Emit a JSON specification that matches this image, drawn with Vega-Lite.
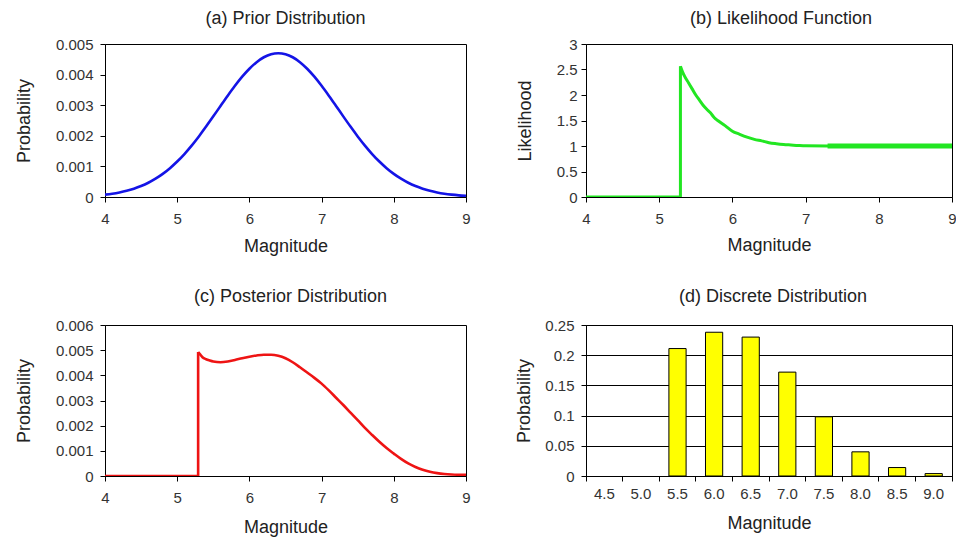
{
  "$schema": "https://vega.github.io/schema/vega-lite/v6.json",
  "padding": {"left": 14, "top": 9, "right": 5, "bottom": 0},
  "background": "white",
  "datasets": {
    "prior": [
      {"m": 4.0, "p": 0.0000768}, {"m": 4.1, "p": 0.000107}, {"m": 4.2, "p": 0.000148}, {"m": 4.3, "p": 0.000201},
      {"m": 4.4, "p": 0.000270}, {"m": 4.5, "p": 0.000357}, {"m": 4.6, "p": 0.000465}, {"m": 4.7, "p": 0.000597},
      {"m": 4.8, "p": 0.000755}, {"m": 4.9, "p": 0.000942}, {"m": 5.0, "p": 0.001159}, {"m": 5.1, "p": 0.001405},
      {"m": 5.2, "p": 0.001680}, {"m": 5.3, "p": 0.001980}, {"m": 5.4, "p": 0.002301}, {"m": 5.5, "p": 0.002635},
      {"m": 5.6, "p": 0.002976}, {"m": 5.7, "p": 0.003312}, {"m": 5.8, "p": 0.003634}, {"m": 5.9, "p": 0.003932},
      {"m": 6.0, "p": 0.004192}, {"m": 6.1, "p": 0.004407}, {"m": 6.2, "p": 0.004567}, {"m": 6.3, "p": 0.004667},
      {"m": 6.4, "p": 0.004700}, {"m": 6.5, "p": 0.004667}, {"m": 6.6, "p": 0.004567}, {"m": 6.7, "p": 0.004407},
      {"m": 6.8, "p": 0.004192}, {"m": 6.9, "p": 0.003932}, {"m": 7.0, "p": 0.003634}, {"m": 7.1, "p": 0.003312},
      {"m": 7.2, "p": 0.002976}, {"m": 7.3, "p": 0.002635}, {"m": 7.4, "p": 0.002301}, {"m": 7.5, "p": 0.001980},
      {"m": 7.6, "p": 0.001680}, {"m": 7.7, "p": 0.001405}, {"m": 7.8, "p": 0.001159}, {"m": 7.9, "p": 0.000942},
      {"m": 8.0, "p": 0.000755}, {"m": 8.1, "p": 0.000597}, {"m": 8.2, "p": 0.000465}, {"m": 8.3, "p": 0.000357},
      {"m": 8.4, "p": 0.000270}, {"m": 8.5, "p": 0.000201}, {"m": 8.6, "p": 0.000148}, {"m": 8.7, "p": 0.000107},
      {"m": 8.8, "p": 0.0000768}, {"m": 8.9, "p": 0.000054}, {"m": 9.0, "p": 0.000038}
    ],
    "likelihood": [
      {"m": 4.0, "l": 0}, {"m": 5.29, "l": 0}, {"m": 5.29, "l": 2.566}, {"m": 5.32, "l": 2.45},
      {"m": 5.35, "l": 2.36}, {"m": 5.4, "l": 2.24}, {"m": 5.45, "l": 2.12}, {"m": 5.5, "l": 2.0},
      {"m": 5.55, "l": 1.9}, {"m": 5.6, "l": 1.8}, {"m": 5.65, "l": 1.72}, {"m": 5.7, "l": 1.65},
      {"m": 5.75, "l": 1.56}, {"m": 5.8, "l": 1.5}, {"m": 5.9, "l": 1.4}, {"m": 6.0, "l": 1.29},
      {"m": 6.1, "l": 1.23}, {"m": 6.2, "l": 1.175}, {"m": 6.3, "l": 1.13}, {"m": 6.4, "l": 1.1},
      {"m": 6.5, "l": 1.065}, {"m": 6.6, "l": 1.045}, {"m": 6.7, "l": 1.03}, {"m": 6.8, "l": 1.02},
      {"m": 6.9, "l": 1.01}, {"m": 7.0, "l": 1.003}, {"m": 7.3, "l": 1.0}, {"m": 8.0, "l": 1.0},
      {"m": 9.0, "l": 1.0}
    ],
    "posterior": [
      {"m": 4.0, "p": 0}, {"m": 5.29, "p": 0}, {"m": 5.29, "p": 0.00493}, {"m": 5.32, "p": 0.00482},
      {"m": 5.35, "p": 0.00472}, {"m": 5.4, "p": 0.00464}, {"m": 5.45, "p": 0.00459}, {"m": 5.5, "p": 0.00455},
      {"m": 5.6, "p": 0.00452}, {"m": 5.7, "p": 0.00455}, {"m": 5.8, "p": 0.00461}, {"m": 5.9, "p": 0.00468},
      {"m": 6.0, "p": 0.00474}, {"m": 6.1, "p": 0.00479}, {"m": 6.2, "p": 0.00482}, {"m": 6.3, "p": 0.00482},
      {"m": 6.4, "p": 0.00478}, {"m": 6.5, "p": 0.00468}, {"m": 6.6, "p": 0.00452}, {"m": 6.7, "p": 0.00432},
      {"m": 6.8, "p": 0.00411}, {"m": 6.9, "p": 0.00390}, {"m": 7.0, "p": 0.00367}, {"m": 7.1, "p": 0.00340},
      {"m": 7.2, "p": 0.00311}, {"m": 7.3, "p": 0.00282}, {"m": 7.4, "p": 0.00252}, {"m": 7.5, "p": 0.00222},
      {"m": 7.6, "p": 0.00191}, {"m": 7.7, "p": 0.00163}, {"m": 7.8, "p": 0.00136}, {"m": 7.9, "p": 0.00111},
      {"m": 8.0, "p": 0.00089}, {"m": 8.1, "p": 0.00068}, {"m": 8.2, "p": 0.00050}, {"m": 8.3, "p": 0.00036},
      {"m": 8.4, "p": 0.00025}, {"m": 8.5, "p": 0.00017}, {"m": 8.6, "p": 0.000115}, {"m": 8.7, "p": 0.00008},
      {"m": 8.8, "p": 0.00006}, {"m": 8.9, "p": 0.00005}, {"m": 9.0, "p": 0.000045}
    ],
    "discrete": [
      {"m": "4.5", "p": 0}, {"m": "5.0", "p": 0}, {"m": "5.5", "p": 0.211}, {"m": "6.0", "p": 0.238},
      {"m": "6.5", "p": 0.230}, {"m": "7.0", "p": 0.172}, {"m": "7.5", "p": 0.098}, {"m": "8.0", "p": 0.040},
      {"m": "8.5", "p": 0.014}, {"m": "9.0", "p": 0.004}
    ]
  },
  "concat": [
    {
      "title": {"text": "(a) Prior Distribution", "offset": 9},
      "width": 361,
      "height": 153,
      "data": {"name": "prior"},
      "mark": {"type": "line", "color": "#1414e6", "strokeWidth": 2.6, "interpolate": "monotone", "clip": true},
      "encoding": {
        "x": {"field": "m", "type": "quantitative", "scale": {"domain": [4, 9]},
              "axis": {"title": "Magnitude", "values": [4, 5, 6, 7, 8, 9], "titleY": 54}},
        "y": {"field": "p", "type": "quantitative", "scale": {"domain": [0, 0.005]},
              "axis": {"title": "Probability", "values": [0, 0.001, 0.002, 0.003, 0.004, 0.005], "titleX": -81}}
      }
    },
    {
      "title": {"text": "(b) Likelihood Function", "dx": 12, "offset": 9},
      "width": 366,
      "height": 153,
      "data": {"name": "likelihood"},
      "encoding": {
        "x": {"field": "m", "type": "quantitative", "scale": {"domain": [4, 9]},
              "axis": {"title": "Magnitude", "values": [4, 5, 6, 7, 8, 9], "titleY": 53}},
        "y": {"field": "l", "type": "quantitative", "scale": {"domain": [0, 3]},
              "axis": {"title": "Likelihood", "values": [0, 0.5, 1, 1.5, 2, 2.5, 3], "titleX": -61, "labelPadding": 4}}
      },
      "layer": [
        {
          "transform": [{"filter": "datum.m <= 5.29"}],
          "mark": {"type": "line", "color": "#22e622", "strokeWidth": 3, "clip": true}
        },
        {
          "transform": [{"filter": "datum.m >= 5.29 && datum.l > 0"}],
          "mark": {"type": "line", "color": "#22e622", "strokeWidth": 3, "interpolate": "monotone", "clip": true}
        },
        {
          "transform": [{"filter": "datum.m >= 7.3"}],
          "mark": {"type": "line", "color": "#22e622", "strokeWidth": 5, "clip": true}
        }
      ]
    },
    {
      "title": {"text": "(c) Posterior Distribution", "dx": 5, "offset": 12},
      "width": 361,
      "height": 151,
      "data": {"name": "posterior"},
      "encoding": {
        "x": {"field": "m", "type": "quantitative", "scale": {"domain": [4, 9]},
              "axis": {"title": "Magnitude", "values": [4, 5, 6, 7, 8, 9], "titleY": 56}},
        "y": {"field": "p", "type": "quantitative", "scale": {"domain": [0, 0.006]},
              "axis": {"title": "Probability", "values": [0, 0.001, 0.002, 0.003, 0.004, 0.005, 0.006], "titleX": -81}}
      },
      "layer": [
        {
          "transform": [{"filter": "datum.m <= 5.29"}],
          "mark": {"type": "line", "color": "#ee1414", "strokeWidth": 2.6, "clip": true}
        },
        {
          "transform": [{"filter": "datum.m >= 5.29 && datum.p > 0"}],
          "mark": {"type": "line", "color": "#ee1414", "strokeWidth": 2.6, "interpolate": "monotone", "clip": true}
        }
      ]
    },
    {
      "title": {"text": "(d) Discrete Distribution", "dx": 4, "offset": 12},
      "width": 366,
      "height": 151,
      "data": {"name": "discrete"},
      "transform": [{"filter": "datum.p > 0"}],
      "mark": {"type": "bar", "fill": "#ffff00", "stroke": "#000000", "strokeWidth": 1, "width": {"band": 0.47}},
      "encoding": {
        "x": {"field": "m", "type": "ordinal", "sort": null,
              "scale": {"domain": ["4.5", "5.0", "5.5", "6.0", "6.5", "7.0", "7.5", "8.0", "8.5", "9.0"], "paddingInner": 0, "paddingOuter": 0},
              "axis": {"title": "Magnitude", "labelAngle": 0, "bandPosition": 1, "tickExtra": true, "titleY": 52, "labelPadding": 5}},
        "y": {"field": "p", "type": "quantitative", "scale": {"domain": [0, 0.25]},
              "axis": {"title": "Probability", "values": [0, 0.05, 0.1, 0.15, 0.2, 0.25], "grid": true,
                       "gridColor": "#000000", "gridOpacity": 1, "titleX": -62}}
      }
    }
  ],
  "columns": 2,
  "spacing": {"row": 128, "column": 120},
  "bounds": "flush",
  "align": "each",
  "config": {
    "font": "Liberation Sans",
    "view": {"stroke": "#000000", "strokeWidth": 1},
    "axis": {
      "domainColor": "#000000",
      "tickColor": "#000000",
      "tickSize": 5,
      "labelPadding": 7,
      "labelOverlap": false,
      "labelFlush": false,
      "labelFont": "Liberation Sans",
      "labelFontSize": 15,
      "labelColor": "#333333",
      "titleFont": "Liberation Sans",
      "titleFontSize": 18,
      "titleFontWeight": "normal",
      "titleColor": "#222222",
      "grid": false
    },
    "axisQuantitative": {"format": "~g"},
    "axisY": {"titleBaseline": "middle"},
    "axisX": {"titleBaseline": "alphabetic", "labelPadding": 9},
    "title": {"fontSize": 18, "fontWeight": "normal", "color": "#222222", "anchor": "middle", "frame": "group", "font": "Liberation Sans"}
  }
}
